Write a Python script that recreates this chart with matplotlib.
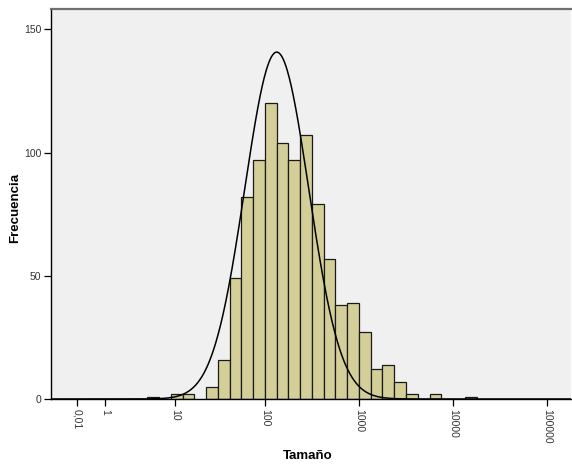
import numpy as np
import matplotlib
matplotlib.use("Agg")
import matplotlib.pyplot as plt

# ---- data (bins in log10(Tamaño+1) units) ----
bin_width_log = 0.125
bin_start_log = [0.75, 0.875, 1.0, 1.125, 1.25, 1.375, 1.5, 1.625, 1.75, 1.875,
                 2.0, 2.125, 2.25, 2.375, 2.5, 2.625, 2.75, 2.875, 3.0, 3.125,
                 3.25, 3.375, 3.5, 3.625, 3.75, 3.875, 4.0, 4.125]
counts = [1, 0, 2, 2, 0, 5, 16, 49, 82, 97,
          120, 104, 97, 107, 79, 57, 38, 39, 27, 12,
          14, 7, 2, 0, 2, 0, 0, 1]
tick_values = [0.01, 1, 10, 100, 1000, 10000, 100000]
tick_labels = ["0,01", "1", "10", "100", "1000", "10000", "100000"]
y_ticks = [0, 50, 100, 150]

# normal curve fit (log units)
fit_mean = 2.125
fit_sd = 0.34
n_total = sum(counts)

plt.rcParams['font.family'] = ['Liberation Sans', 'DejaVu Sans']

fig = plt.figure(figsize=(5.72, 4.67), dpi=100)
W, H = 572, 467
ax = fig.add_axes([51 / W, (H - 399) / H, (571 - 51) / W, (399 - 9) / H])

fwd = lambda x: np.log10(np.clip(np.asarray(x, dtype=float) + 1, 1e-12, None))
inv = lambda u: 10 ** np.asarray(u, dtype=float) - 1
ax.set_xscale('function', functions=(fwd, inv))

ax.set_facecolor('#F0F0F0')

lefts_u = np.array(bin_start_log)
rights_u = lefts_u + bin_width_log
lefts = inv(lefts_u)
widths = inv(rights_u) - lefts
mask = np.array(counts) > 0
ax.bar(lefts[mask], np.array(counts)[mask], width=widths[mask], align='edge',
       color='#D4CF99', edgecolor='#1a1a1a', linewidth=0.9, zorder=2)

u = np.linspace(-0.3, 5.3, 800)
curve = n_total * bin_width_log / (fit_sd * np.sqrt(2 * np.pi)) * np.exp(-0.5 * ((u - fit_mean) / fit_sd) ** 2)
ax.plot(inv(u), curve, color='black', linewidth=1.1, zorder=3)

ax.set_xlim(inv(-0.276), inv(5.255))
ax.set_ylim(0, 158.3)

ax.set_xticks(tick_values)
ax.set_xticklabels(tick_labels, rotation=270, fontsize=7.5, color='#333333')
ax.set_yticks(y_ticks)
ax.set_yticklabels([str(v) for v in y_ticks], fontsize=7.5, color='#333333')
ax.minorticks_off()
ax.tick_params(axis='both', direction='out', length=5, width=0.9, color='black', pad=2)

for s in ['left', 'bottom']:
    ax.spines[s].set_color('black')
    ax.spines[s].set_linewidth(1.0)
ax.spines['top'].set_color('#707070')
ax.spines['top'].set_linewidth(1.6)
ax.spines['right'].set_visible(False)

fig.text(308 / W, 1 - 456 / H, 'Tamaño', fontsize=9.5, fontweight='bold', ha='center', va='center')
fig.text(15 / W, 1 - 208 / H, 'Frecuencia', fontsize=9.5, fontweight='bold', ha='center', va='center', rotation=90)

fig.savefig('out.png', dpi=100)
